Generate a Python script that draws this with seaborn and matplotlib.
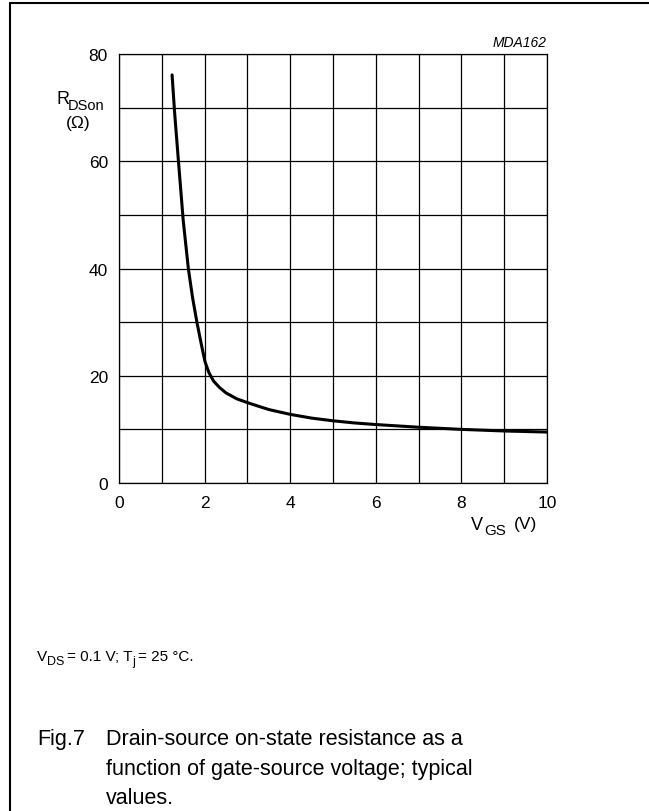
import matplotlib
matplotlib.use("Agg")
import matplotlib.pyplot as plt
import seaborn as sns
import pandas as pd
from matplotlib.lines import Line2D

# Data
vgs = [1.24, 1.30, 1.39, 1.50, 1.62, 1.72, 1.82, 1.92, 2.01, 2.10, 2.21, 2.35, 2.50, 2.75, 3.07, 3.5, 4.0, 4.5, 5.0, 5.5, 6.0, 7.0, 8.0, 9.0, 10.0]
rds = [76.1, 69.0, 59.9, 49.0, 40.0, 34.5, 30.0, 26.0, 22.6, 20.6, 19.0, 17.8, 16.8, 15.7, 14.8, 13.7, 12.8, 12.1, 11.6, 11.2, 10.9, 10.4, 10.0, 9.7, 9.5]
x_ticks = [0, 2, 4, 6, 8, 10]
y_ticks = [0, 20, 40, 60, 80]

sns.set_theme(style="white")
plt.rcParams['font.family'] = ['Liberation Sans', 'DejaVu Sans']
plt.rcParams['text.color'] = 'black'
plt.rcParams['xtick.color'] = 'black'
plt.rcParams['ytick.color'] = 'black'

W, H = 649, 812
fig = plt.figure(figsize=(W/100, H/100), dpi=100)
ax = fig.add_axes([119/W, 1-484/H, (547-119)/W, (484-55)/H])

df = pd.DataFrame({"VGS": vgs, "RDS": rds})
sns.lineplot(data=df, x="VGS", y="RDS", ax=ax, color="black", linewidth=2.2, sort=False)

ax.set_xlim(0, 10)
ax.set_ylim(0, 80)
ax.set_xticks(range(0, 11))
ax.set_yticks(range(0, 81, 10))
ax.set_xticklabels([str(t) if t in x_ticks else "" for t in range(0, 11)])
ax.set_yticklabels([str(t) if t in y_ticks else "" for t in range(0, 81, 10)])
ax.grid(True, color="black", linewidth=0.9)
ax.tick_params(axis="both", length=0, labelsize=12.5, colors="black")
ax.tick_params(axis="x", pad=9)
ax.tick_params(axis="y", pad=8)
ax.set_xlabel("")
ax.set_ylabel("")
for s in ax.spines.values():
    s.set_color("black")
    s.set_linewidth(0.9)

renderer = fig.canvas.get_renderer()

def t(x, y, s, **kw):
    return fig.text(x/W, 1-y/H, s, va="baseline", **kw)

def runs(x, y, parts):
    """parts: list of (text, fontsize, dy, gap_after) placed one after another."""
    cx = x
    for s, fs, dy, gap in parts:
        txt = t(cx, y + dy, s, fontsize=fs)
        bb = txt.get_window_extent(renderer=renderer)
        cx += bb.width + gap

# y axis label
t(56, 104, "R", fontsize=13)
t(68, 110, "DSon", fontsize=10.5)
t(78, 128, "(Ω)", fontsize=12.5, ha="center")

# x axis label
t(471, 530, "V", fontsize=13)
t(484, 535, "GS", fontsize=11)
t(514, 529, "(V)", fontsize=12.5)

t(547, 47, "MDA162", fontsize=10, style="italic", ha="right")

# Conditions line
runs(37, 661, [("V", 11, 0, -0.5), ("DS", 9, 4, 3.0), ("= 0.1 V; T", 11, 0, -0.5),
               ("j", 9, 4, 3.0), ("= 25 °C.", 11, 0, 0)])

# Caption
t(37, 745, "Fig.7", fontsize=15.5)
t(106, 745, "Drain-source on-state resistance as a", fontsize=15.5)
t(106, 775, "function of gate-source voltage; typical", fontsize=15.5)
t(106, 804, "values.", fontsize=15.5)

# Frame lines (top and left)
fig.add_artist(Line2D([9.5/W, 9.5/W], [0, 1-4/H], transform=fig.transFigure, color="black", linewidth=1.5))
fig.add_artist(Line2D([9.5/W, 1], [1-4/H, 1-4/H], transform=fig.transFigure, color="black", linewidth=1.5))

fig.savefig("out.png", dpi=100)
